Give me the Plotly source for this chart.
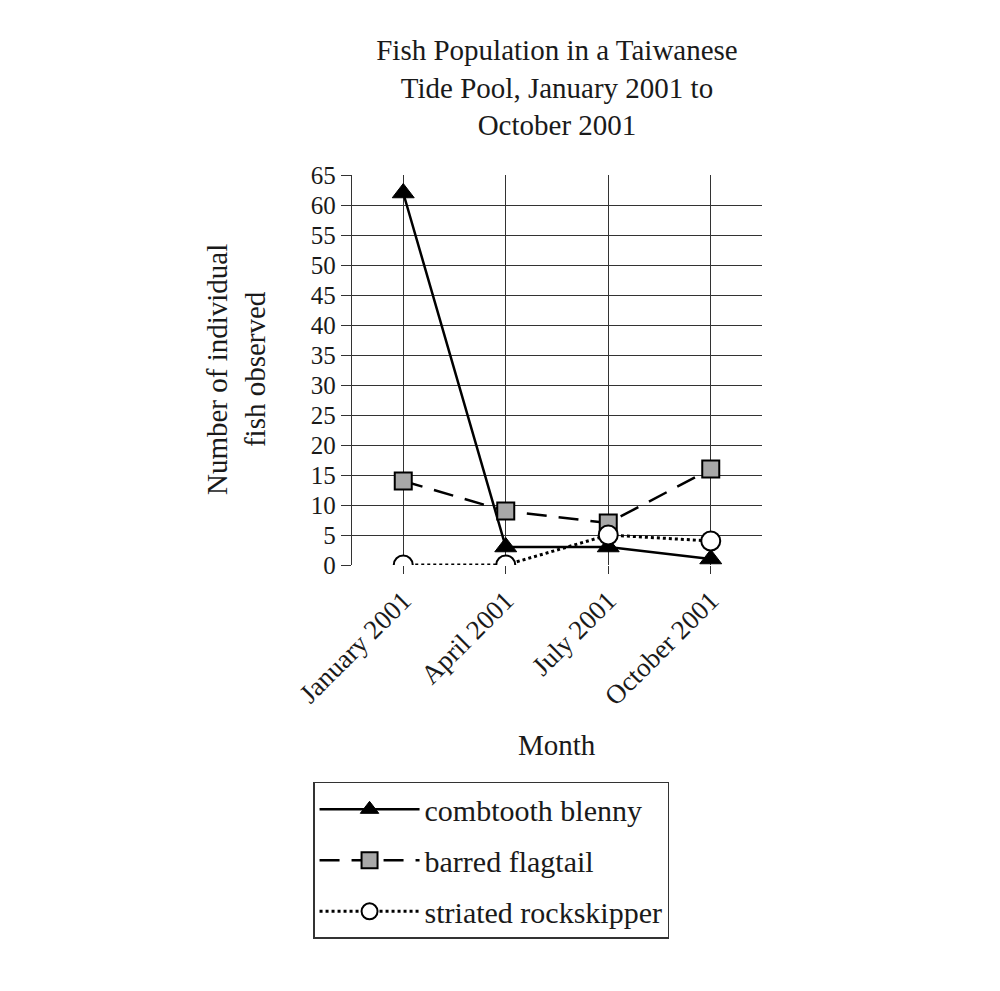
import plotly.graph_objects as go

months = ["January 2001", "April 2001", "July 2001", "October 2001"]
blenny = [62, 3, 3, 1]
flagtail = [14, 9, 7, 16]
rockskipper = [0, 0, 5, 4]
y_ticks = list(range(0, 70, 5))

FONT = "Liberation Serif"
INK = "#1a1a1a"

fig = go.Figure()
fig.add_trace(go.Scatter(
    x=months, y=blenny, name="combtooth blenny", mode="lines+markers",
    line=dict(color="black", width=2.5, dash="solid"),
    marker=dict(symbol="triangle-up", size=19, color="black", line=dict(color="black", width=1)),
    legendgroup="a"))
fig.add_trace(go.Scatter(
    x=months, y=flagtail, name="barred flagtail", mode="lines+markers",
    line=dict(color="black", width=2.5, dash="20px,12px"),
    marker=dict(symbol="square", size=17, color="#a8a8a8", line=dict(color="black", width=2)),
    legendgroup="b"))
fig.add_trace(go.Scatter(
    x=months, y=rockskipper, name="striated rockskipper", mode="lines+markers",
    line=dict(color="black", width=3, dash="dot"),
    marker=dict(symbol="circle", size=19, color="white", line=dict(color="black", width=2)),
    legendgroup="c"))

fig.update_layout(
    width=1000, height=991,
    margin=dict(l=352, r=238, t=175, b=426),
    paper_bgcolor="white", plot_bgcolor="white",
    font=dict(family=FONT, color=INK, size=25),
    title=dict(text="Fish Population in a Taiwanese<br>Tide Pool, January 2001 to<br>October 2001",
               x=0.5, xref="paper", xanchor="center",
               y=1 - 60 / 991, yref="container", yanchor="top",
               font=dict(family=FONT, size=29, color=INK)),
    showlegend=True,
    legend=dict(x=-0.095, y=-0.556, xanchor="left", yanchor="top",
                xref="paper", yref="paper",
                bordercolor="#333", borderwidth=1.5, bgcolor="white",
                font=dict(family=FONT, size=30, color=INK),
                itemwidth=100, tracegroupgap=9,
                traceorder="grouped"),
)
fig.update_xaxes(
    type="category", range=[-0.5, 3.5],
    showgrid=True, gridcolor="#333", gridwidth=1.3,
    showline=False, zeroline=False,
    ticks="outside", ticklen=8, tickcolor="#333",
    tickangle=-45, tickfont=dict(family=FONT, size=27, color=INK),
)
fig.update_yaxes(
    range=[0, 65], tickvals=y_ticks,
    showgrid=True, gridcolor="#333", gridwidth=1.3,
    showline=True, linecolor="#333", linewidth=1.3,
    zeroline=False,
    ticks="outside", ticklen=10, tickcolor="#333",
    tickfont=dict(family=FONT, size=25, color=INK),
)
fig.add_annotation(text="Number of individual<br>fish observed", textangle=-90,
                   xref="paper", yref="paper", x=(236 - 352) / 410, y=(565 - 370) / 390,
                   xanchor="center", yanchor="middle", showarrow=False,
                   font=dict(family=FONT, size=29, color=INK))
fig.add_annotation(text="Month", xref="paper", yref="paper",
                   x=0.5, y=(565 - 745) / 390, xanchor="center", yanchor="middle",
                   showarrow=False, font=dict(family=FONT, size=29, color=INK))

fig.write_html("out.html")
